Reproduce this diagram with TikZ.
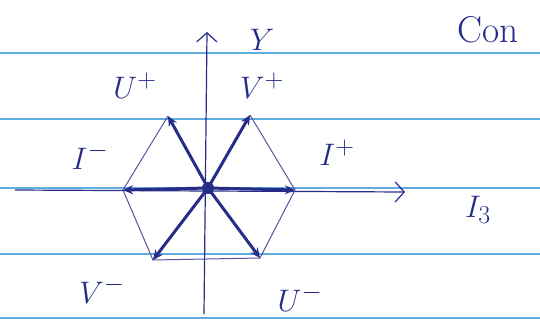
\documentclass[tikz,border=0pt]{standalone}
\usepackage{amsmath,amssymb}
\usepackage{graphicx}
\usepackage{tikz}
\usetikzlibrary{arrows.meta}
\definecolor{ink}{RGB}{38,44,135}
\definecolor{ruleblue}{RGB}{96,172,222}
\newcommand{\hw}[1]{\scalebox{1.25}{#1}}

\begin{document}
\begin{tikzpicture}[x=1pt,y=-1pt,
  lbl/.style={ink,font=\Huge},
  weight/.style={ink,line width=3pt,-{Stealth[length=10pt,width=9pt]}},
  edge/.style={ink!80,line width=1pt}]
\useasboundingbox (0,0) rectangle (540,327);
% paper lines
\foreach \yy in {53,119,188,254,318}
  \draw[ruleblue,line width=2pt] (0,\yy)--(540,\yy);
% axes
\coordinate (xl) at (15,190);
\coordinate (xr) at (405,192);
\coordinate (yb) at (204,314);
\coordinate (yt) at (207,32);
\draw[ink,line width=1.2pt,-{Straight Barb[length=9pt,width=20pt]}] (xl)--(xr);
\draw[ink,line width=1.2pt,-{Straight Barb[length=9pt,width=20pt]}] (yb)--(yt);
\node[lbl] (ylab) at (262,40){\hw{$Y$}};
\node[lbl] (i3lab) at (478,210){\hw{$I_3$}};
\node[lbl] (con) at (488,30){\scalebox{1.5}{Con}};
% weights
\coordinate (O) at (208,188);
\coordinate (Ip) at (295,190);
\coordinate (Im) at (123,190);
\coordinate (Up) at (168,116);
\coordinate (Vp) at (250,115);
\coordinate (Vm) at (153,260);
\coordinate (Um) at (260,258);
\draw[edge] (Up)--(Im)--(Vm)--(Um)--(Ip)--(Vp);
\foreach \w in {Ip,Im,Up,Vp,Vm,Um}
  \draw[weight] (O)--(\w);
\fill[ink] (O) circle (6pt);
\node[lbl] (uplab) at (135,86){\hw{$U^+$}};
\node[lbl] (vplab) at (262,86){\hw{$V^+$}};
\node[lbl] (imlab) at (90,156){\hw{$I^-$}};
\node[lbl] (iplab) at (337,153){\hw{$I^+$}};
\node[lbl] (vmlab) at (102,290){\hw{$V^-$}};
\node[lbl] (umlab) at (300,298){\hw{$U^-$}};
\end{tikzpicture}
\end{document}
